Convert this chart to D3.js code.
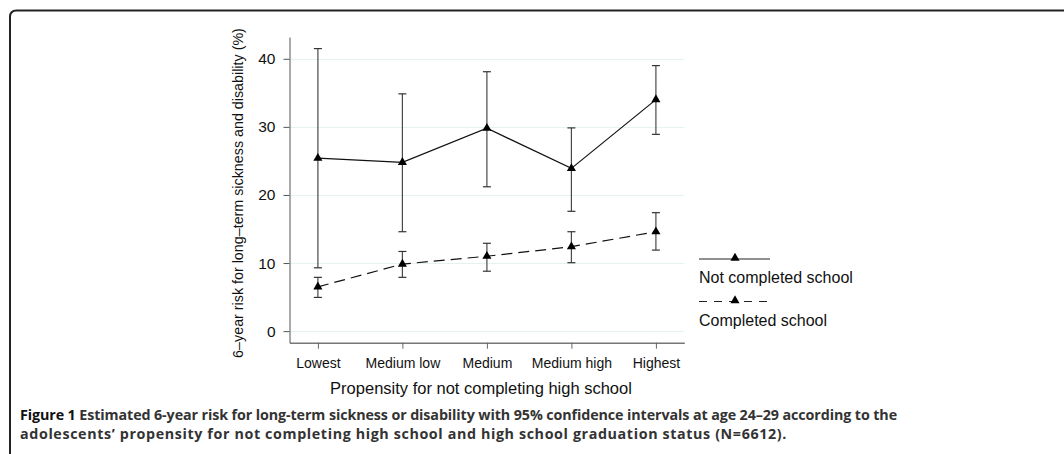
<!DOCTYPE html>
<html>
<head>
<meta charset="utf-8">
<script src="https://cdn.jsdelivr.net/npm/d3@7"></script>
<style>
  html, body { margin: 0; padding: 0; background: #fff; }
  svg { display: block; }
</style>
</head>
<body>
<svg id="chart" width="1064" height="454"></svg>
<script>
// Propensity groups along the x axis
const categories = ["Lowest", "Medium low", "Medium", "Medium high", "Highest"];

// Not completed school: estimate and 95% CI (%)
const notCompletedRisk  = [25.4, 24.8, 29.8, 23.9, 34.0];
const notCompletedLower = [9.3, 14.6, 21.2, 17.6, 28.9];
const notCompletedUpper = [41.5, 34.85, 38.1, 29.85, 39.0];

// Completed school: estimate and 95% CI (%)
const completedRisk  = [6.5, 9.85, 11.0, 12.4, 14.6];
const completedLower = [4.95, 7.9, 8.8, 10.05, 11.9];
const completedUpper = [7.9, 11.7, 12.9, 14.6, 17.4];

const yTicks = [0, 10, 20, 30, 40];

const seriesNames = ["Not completed school", "Completed school"];

const captionLine1Bold = "Figure 1";
const captionLine1 = " Estimated 6-year risk for long-term sickness or disability with 95% confidence intervals at age 24\u201329 according to the";
const captionLine2 = "adolescents\u2019 propensity for not completing high school and high school graduation status (N=6612).";

const svg = d3.select("#chart");
const font = "'Liberation Sans', Arial, Helvetica, sans-serif";

// Figure frame with rounded top-left corner
svg.append("path")
  .attr("d", "M10,454 L10,17 Q10,10.5 16.5,10.5 L1064,10.5")
  .attr("fill", "none")
  .attr("stroke", "#222")
  .attr("stroke-width", 2);

const plot = { left: 289.5, right: 684.3, top: 37, bottom: 342.7 };

const x = d3.scalePoint()
  .domain(categories)
  .range([plot.left, plot.right])
  .padding(0.336);

const y = d3.scaleLinear()
  .domain([-1.7, 43.2])
  .range([plot.bottom, plot.top]);

// Horizontal gridlines
svg.append("g")
  .selectAll("line")
  .data(yTicks)
  .join("line")
  .attr("x1", plot.left)
  .attr("x2", plot.right)
  .attr("y1", d => Math.round(y(d)) + 0.5)
  .attr("y2", d => Math.round(y(d)) + 0.5)
  .attr("stroke", "#e6f1f1")
  .attr("stroke-width", 1);

// Y axis
const yAxis = svg.append("g")
  .attr("transform", `translate(${plot.left},0)`)
  .call(d3.axisLeft(y).tickValues(yTicks).tickSize(6).tickPadding(8).tickSizeOuter(0));
yAxis.select(".domain").attr("stroke", "#555");
yAxis.selectAll(".tick line").attr("stroke", "#555");
yAxis.selectAll(".tick text")
  .attr("font-family", font)
  .attr("font-size", 15.5)
  .attr("fill", "#111");

// X axis
const xAxis = svg.append("g")
  .attr("transform", `translate(0,${plot.bottom})`)
  .call(d3.axisBottom(x).tickSize(6).tickPadding(9).tickSizeOuter(0));
xAxis.select(".domain").attr("stroke", "#777").attr("stroke-width", 1.5);
xAxis.selectAll(".tick line").attr("stroke", "#666");
xAxis.selectAll(".tick text")
  .attr("font-family", font)
  .attr("font-size", 14)
  .attr("fill", "#111");

// Axis titles
svg.append("text")
  .attr("x", 481)
  .attr("y", 388)
  .attr("dy", "0.35em")
  .attr("text-anchor", "middle")
  .attr("font-family", font)
  .attr("font-size", 16.5)
  .attr("fill", "#111")
  .text("Propensity for not completing high school");

svg.append("text")
  .attr("transform", `translate(238,193) rotate(-90)`)
  .attr("dy", "0.35em")
  .attr("text-anchor", "middle")
  .attr("font-family", font)
  .attr("font-size", 14.3)
  .attr("fill", "#111")
  .text("6\u2013year risk for long\u2013term sickness and disability (%)");

const series = [
  { name: seriesNames[0], risk: notCompletedRisk, lo: notCompletedLower, hi: notCompletedUpper, dash: null },
  { name: seriesNames[1], risk: completedRisk, lo: completedLower, hi: completedUpper, dash: "11,6" }
];

const capHalf = 4;
const tri = d3.symbol().type(d3.symbolTriangle).size(36);

series.forEach(s => {
  const pts = categories.map((c, i) => ({ c, v: s.risk[i], lo: s.lo[i], hi: s.hi[i] }));
  const g = svg.append("g");

  // Confidence intervals
  const eb = g.selectAll("g.eb").data(pts).join("g").attr("class", "eb");
  eb.append("line")
    .attr("x1", d => x(d.c)).attr("x2", d => x(d.c))
    .attr("y1", d => y(d.lo)).attr("y2", d => y(d.hi))
    .attr("stroke", "#4a4a4a").attr("stroke-width", 1.2);
  eb.append("line")
    .attr("x1", d => x(d.c) - capHalf).attr("x2", d => x(d.c) + capHalf)
    .attr("y1", d => y(d.hi)).attr("y2", d => y(d.hi))
    .attr("stroke", "#333").attr("stroke-width", 1.2);
  eb.append("line")
    .attr("x1", d => x(d.c) - capHalf).attr("x2", d => x(d.c) + capHalf)
    .attr("y1", d => y(d.lo)).attr("y2", d => y(d.lo))
    .attr("stroke", "#333").attr("stroke-width", 1.2);

  // Connecting line
  g.append("path")
    .datum(pts)
    .attr("d", d3.line().x(d => x(d.c)).y(d => y(d.v)))
    .attr("fill", "none")
    .attr("stroke", "#111")
    .attr("stroke-width", 1.2)
    .attr("stroke-dasharray", s.dash);

  // Markers
  g.selectAll("path.mk").data(pts).join("path")
    .attr("class", "mk")
    .attr("d", tri)
    .attr("transform", d => `translate(${x(d.c)},${y(d.v)})`)
    .attr("fill", "#000");
});

// Legend
const legend = svg.append("g");
const legendRows = [
  { name: seriesNames[0], dash: null, lineY: 259, textY: 277 },
  { name: seriesNames[1], dash: "8,7", lineY: 301.5, textY: 320 }
];
legendRows.forEach(r => {
  legend.append("line")
    .attr("x1", 699).attr("x2", 770)
    .attr("y1", r.lineY).attr("y2", r.lineY)
    .attr("stroke", "#222").attr("stroke-width", 1.2)
    .attr("stroke-dasharray", r.dash);
  legend.append("path")
    .attr("d", tri)
    .attr("transform", `translate(735,${r.lineY - 1})`)
    .attr("fill", "#000");
  legend.append("text")
    .attr("x", 699).attr("y", r.textY)
    .attr("dy", "0.35em")
    .attr("font-family", font)
    .attr("font-size", 16)
    .attr("fill", "#111")
    .text(r.name);
});

// Caption: two bold lines, each spaced out to its line width
const capFont = "'Open Sans', 'Noto Sans', sans-serif";
const capX = 20;
const cap1 = svg.append("text")
  .attr("x", capX).attr("y", 420)
  .attr("font-family", capFont)
  .attr("font-size", 14.3)
  .attr("font-weight", 700)
  .attr("fill", "#333");
cap1.append("tspan").attr("fill", "#111").text(captionLine1Bold);
cap1.append("tspan").text(captionLine1);

const cap2 = svg.append("text")
  .attr("x", capX).attr("y", 439)
  .attr("font-family", capFont)
  .attr("font-size", 14.3)
  .attr("font-weight", 700)
  .attr("fill", "#333")
  .text(captionLine2);

function fitLine(sel, text, width) {
  const w = sel.node().getComputedTextLength();
  const ls = (width - w) / text.length;
  sel.attr("letter-spacing", ls.toFixed(3));
}
fitLine(cap1, captionLine1Bold + captionLine1, 877);
fitLine(cap2, captionLine2, 767);
</script>
</body>
</html>
